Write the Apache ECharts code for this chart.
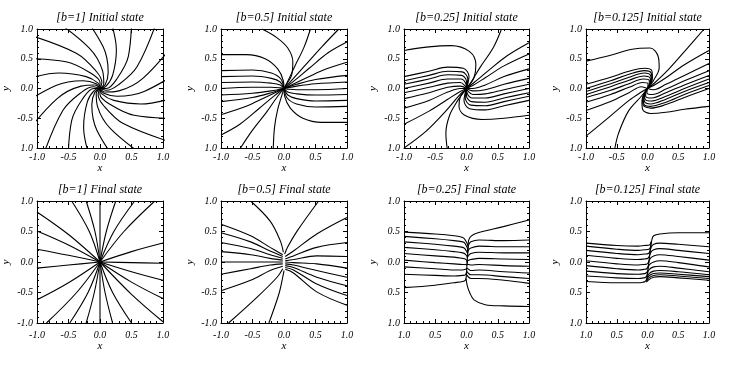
<!DOCTYPE html>
<html>
<head>
<meta charset="utf-8">
<title>field lines</title>
<script src="https://cdn.jsdelivr.net/npm/echarts/dist/echarts.min.js"></script>
<style>
  html, body { margin: 0; padding: 0; background: #fff; }
  #charts { width: 736px; height: 365px; }
</style>
</head>
<body>
<div id="charts"></div>
<script>
// panel titles
var titles = ['[b=1] Initial state', '[b=0.5] Initial state', '[b=0.25] Initial state', '[b=0.125] Initial state',
              '[b=1] Final state', '[b=0.5] Final state', '[b=0.25] Final state', '[b=0.125] Final state'];

// tick labels, listed from -1 to 1
var xTicksStd = ['-1.0', '-0.5', '0.0', '0.5', '1.0'];
var xTicksBare = ['1.0', '0.5', '0.0', '0.5', '1.0'];
var yTicksInit = ['1.0', '-0.5', '0.0', '0.5', '1.0'];
var yTicksStd = ['-1.0', '-0.5', '0.0', '0.5', '1.0'];
var yTicksBare = ['1.0', '0.5', '0.0', '0.5', '1.0'];

// field lines, each one a list of [x, y]
var b1Init = [
  [[0,0],[-0.03,0.09],[-0.22,0.20],[-0.65,0.26],[-1.50,0.05]],
  [[0,0],[-0.06,0.08],[-0.27,0.13],[-0.70,0.05],[-1.44,-0.41]],
  [[0,0],[-0.08,0.06],[-0.30,0.04],[-0.68,-0.17],[-1.24,-0.84]],
  [[0,0],[-0.10,0.03],[-0.29,-0.06],[-0.59,-0.37],[-0.92,-1.18]],
  [[0,0],[-0.10,0.00],[-0.26,-0.15],[-0.45,-0.54],[-0.51,-1.41]],
  [[0,0],[-0.09,-0.03],[-0.20,-0.22],[-0.26,-0.65],[-0.05,-1.50]],
  [[0,0],[-0.08,-0.06],[-0.13,-0.27],[-0.05,-0.70],[0.41,-1.44]],
  [[0,0],[-0.06,-0.08],[-0.04,-0.30],[0.17,-0.68],[0.84,-1.24]],
  [[0,0],[-0.03,-0.10],[0.06,-0.29],[0.37,-0.59],[1.18,-0.92]],
  [[0,0],[0.00,-0.10],[0.15,-0.26],[0.54,-0.45],[1.41,-0.51]],
  [[0,0],[0.03,-0.09],[0.22,-0.20],[0.65,-0.26],[1.50,-0.05]],
  [[0,0],[0.06,-0.08],[0.27,-0.13],[0.70,-0.05],[1.44,0.41]],
  [[0,0],[0.08,-0.06],[0.30,-0.04],[0.68,0.17],[1.24,0.84]],
  [[0,0],[0.10,-0.03],[0.29,0.06],[0.59,0.37],[0.92,1.18]],
  [[0,0],[0.10,0.00],[0.26,0.15],[0.45,0.54],[0.51,1.41]],
  [[0,0],[0.09,0.03],[0.20,0.22],[0.26,0.65],[0.05,1.50]],
  [[0,0],[0.08,0.06],[0.13,0.27],[0.05,0.70],[-0.41,1.44]],
  [[0,0],[0.06,0.08],[0.04,0.30],[-0.17,0.68],[-0.84,1.24]],
  [[0,0],[0.03,0.10],[-0.06,0.29],[-0.37,0.59],[-1.18,0.92]],
  [[0,0],[0.00,0.10],[-0.15,0.26],[-0.54,0.45],[-1.41,0.51]]
];

var b05Init = [
  [[-0.35,1],[-0.12,0.86],[0.06,0.68],[0.14,0.45],[0.12,0.22],[0.04,0.07],[0,0]],
  [[-1,0.57],[-0.6,0.57],[-0.3,0.5],[-0.1,0.33],[-0.01,0.13],[0,0]],
  [[-1,0.30],[-0.5,0.31],[-0.2,0.26],[-0.05,0.16],[0,0]],
  [[-1,0.20],[-0.5,0.21],[-0.2,0.17],[-0.06,0.11],[0,0]],
  [[-1,0.10],[-0.5,0.11],[-0.2,0.09],[-0.06,0.06],[0,0]],
  [[-1,0.0],[-0.5,0.02],[-0.2,0.02],[-0.06,0.01],[0,0]],
  [[-1,-0.11],[-0.5,-0.08],[-0.2,-0.04],[0,0]],
  [[-1,-0.22],[-0.5,-0.15],[-0.2,-0.07],[0,0]],
  [[-1,-0.44],[-0.6,-0.3],[-0.3,-0.15],[-0.1,-0.05],[0,0]],
  [[-1,-0.78],[-0.7,-0.6],[-0.4,-0.34],[-0.15,-0.12],[0,0]],
  [[-0.69,-1],[-0.5,-0.7],[-0.28,-0.4],[-0.1,-0.13],[0,0]],
  [[-0.17,-1],[-0.15,-0.65],[-0.1,-0.35],[-0.03,-0.1],[0,0]],
  [[1,-0.57],[0.6,-0.57],[0.3,-0.5],[0.1,-0.33],[0.01,-0.13],[0,0]],
  [[1,-0.30],[0.5,-0.31],[0.2,-0.26],[0.05,-0.16],[0,0]],
  [[1,-0.20],[0.5,-0.21],[0.2,-0.17],[0.06,-0.11],[0,0]],
  [[1,-0.10],[0.5,-0.11],[0.2,-0.09],[0.06,-0.06],[0,0]],
  [[1,0.0],[0.5,-0.02],[0.2,-0.02],[0.06,-0.01],[0,0]],
  [[1,0.11],[0.5,0.08],[0.2,0.04],[0,0]],
  [[1,0.22],[0.5,0.15],[0.2,0.07],[0,0]],
  [[1,0.44],[0.6,0.3],[0.3,0.15],[0.1,0.05],[0,0]],
  [[1,0.78],[0.7,0.6],[0.4,0.34],[0.15,0.12],[0,0]],
  [[0.42,1],[0.32,0.7],[0.17,0.37],[0.05,0.1],[0,0]],
  [[0.87,1],[0.6,0.7],[0.32,0.37],[0.09,0.1],[0,0]]
];

var b025Init = [
  [[-1,0.64],[-0.6,0.7],[-0.25,0.72],[0.05,0.62],[0.15,0.4],[0.12,0.18],[0.03,0.04],[0,0]],
  [[-1,0.20],[-0.6,0.29],[-0.3,0.36],[-0.05,0.34],[0.04,0.2],[0.02,0.07],[0,0]],
  [[-1,0.13],[-0.6,0.22],[-0.3,0.29],[-0.07,0.28],[0.02,0.16],[0.01,0.05],[0,0]],
  [[-1,0.07],[-0.6,0.16],[-0.3,0.23],[-0.08,0.22],[0.0,0.12],[0,0]],
  [[-1,0.0],[-0.6,0.09],[-0.3,0.16],[-0.09,0.16],[-0.01,0.08],[0,0]],
  [[-1,-0.07],[-0.6,0.02],[-0.3,0.09],[-0.1,0.1],[-0.02,0.04],[0,0]],
  [[-1,-0.17],[-0.6,-0.07],[-0.3,0.02],[-0.1,0.04],[0,0]],
  [[-1,-0.33],[-0.6,-0.2],[-0.3,-0.06],[-0.1,0.0],[0,0]],
  [[-1,-0.6],[-0.6,-0.38],[-0.3,-0.18],[-0.1,-0.05],[0,0]],
  [[-1,-1],[-0.65,-0.72],[-0.35,-0.4],[-0.12,-0.12],[0,0]],
  [[-0.31,-1],[-0.33,-0.75],[-0.27,-0.45],[-0.14,-0.2],[-0.04,-0.05],[0,0]],
  [[1,-0.45],[0.6,-0.5],[0.25,-0.52],[-0.03,-0.45],[-0.12,-0.3],[-0.1,-0.14],[-0.03,-0.04],[0,0]],
  [[1,-0.20],[0.6,-0.29],[0.3,-0.36],[0.05,-0.34],[-0.04,-0.2],[-0.02,-0.07],[0,0]],
  [[1,-0.13],[0.6,-0.22],[0.3,-0.29],[0.07,-0.28],[-0.02,-0.16],[-0.01,-0.05],[0,0]],
  [[1,-0.07],[0.6,-0.16],[0.3,-0.23],[0.08,-0.22],[0.0,-0.12],[0,0]],
  [[1,0.0],[0.6,-0.09],[0.3,-0.16],[0.09,-0.16],[0.01,-0.08],[0,0]],
  [[1,0.07],[0.6,-0.02],[0.3,-0.09],[0.1,-0.1],[0.02,-0.04],[0,0]],
  [[1,0.17],[0.6,0.07],[0.3,-0.02],[0.1,-0.04],[0,0]],
  [[1,0.33],[0.6,0.2],[0.3,0.06],[0.1,0.0],[0,0]],
  [[1,0.58],[0.6,0.38],[0.3,0.18],[0.1,0.05],[0,0]],
  [[1,0.77],[0.65,0.55],[0.35,0.3],[0.12,0.1],[0,0]],
  [[0.56,1],[0.43,0.69],[0.22,0.36],[0.07,0.1],[0,0]]
];

var b0125Init = [
  [[-1,0.46],[-0.6,0.56],[-0.25,0.66],[0.04,0.68],[0.17,0.55],[0.19,0.35],[0.1,0.14],[0.02,0.02],[0,0]],
  [[-1,0.07],[-0.6,0.19],[-0.3,0.29],[-0.05,0.34],[0.07,0.3],[0.08,0.17],[0.03,0.05],[0,0]],
  [[-1,0.0],[-0.6,0.13],[-0.3,0.24],[-0.05,0.3],[0.06,0.26],[0.07,0.15],[0.02,0.04],[0,0]],
  [[-1,-0.05],[-0.6,0.08],[-0.3,0.19],[-0.05,0.26],[0.05,0.22],[0.06,0.13],[0.02,0.04],[0,0]],
  [[-1,-0.1],[-0.6,0.03],[-0.3,0.14],[-0.06,0.21],[0.04,0.18],[0.05,0.1],[0,0]],
  [[-1,-0.15],[-0.6,-0.03],[-0.3,0.08],[-0.07,0.16],[0.03,0.13],[0.03,0.06],[0,0]],
  [[-1,-0.23],[-0.6,-0.1],[-0.3,0.02],[-0.08,0.1],[0.01,0.08],[0,0]],
  [[-1,-0.37],[-0.6,-0.22],[-0.3,-0.07],[-0.1,0.03],[0,0]],
  [[-1,-0.8],[-0.6,-0.46],[-0.3,-0.2],[-0.1,-0.06],[0,0]],
  [[-0.53,-1],[-0.47,-0.75],[-0.31,-0.38],[-0.1,-0.13],[0,0]],
  [[1,-0.3],[0.6,-0.35],[0.3,-0.4],[0.05,-0.42],[-0.08,-0.35],[-0.09,-0.2],[-0.03,-0.06],[0,0]],
  [[1,0.0],[0.6,-0.15],[0.3,-0.27],[0.05,-0.33],[-0.07,-0.28],[-0.08,-0.16],[-0.03,-0.05],[0,0]],
  [[1,0.05],[0.6,-0.1],[0.3,-0.23],[0.05,-0.3],[-0.06,-0.26],[-0.07,-0.14],[-0.02,-0.04],[0,0]],
  [[1,0.1],[0.6,-0.05],[0.3,-0.18],[0.05,-0.26],[-0.05,-0.22],[-0.06,-0.12],[-0.02,-0.04],[0,0]],
  [[1,0.16],[0.6,0.0],[0.3,-0.13],[0.06,-0.21],[-0.04,-0.18],[-0.05,-0.1],[0,0]],
  [[1,0.22],[0.6,0.06],[0.3,-0.07],[0.07,-0.16],[-0.03,-0.13],[-0.03,-0.06],[0,0]],
  [[1,0.3],[0.6,0.13],[0.3,-0.01],[0.08,-0.1],[-0.01,-0.07],[0,0]],
  [[1,0.42],[0.6,0.22],[0.3,0.07],[0.1,-0.02],[0,0]],
  [[1,0.64],[0.6,0.4],[0.3,0.18],[0.1,0.05],[0,0]],
  [[0.92,1],[0.65,0.68],[0.35,0.33],[0.1,0.08],[0,0]]
];

var b1Final = [
  [[0,0],[-0.5,0.45],[-1,0.82]], [[0,0],[-0.5,0.28],[-1,0.51]], [[0,0],[-0.5,0.11],[-1,0.21]],
  [[0,0],[-0.5,-0.05],[-1,-0.10]], [[0,0],[-0.5,-0.34],[-1,-0.62]],
  [[0,0],[-0.17,0.5],[-0.45,1]], [[0,0],[-0.08,0.5],[-0.22,1]], [[0,0],[0,0.5],[0,1]],
  [[0,0],[0.1,0.5],[0.25,1]], [[0,0],[0.22,0.5],[0.55,1]], [[0,0],[0.38,0.5],[0.87,1]],
  [[0,0],[0.5,0.17],[1,0.31]], [[0,0],[0.5,-0.01],[1,-0.02]], [[0,0],[0.5,-0.16],[1,-0.30]],
  [[0,0],[0.5,-0.33],[1,-0.60]], [[0,0],[0.5,-0.53],[1,-0.98]],
  [[0,0],[-0.37,-0.5],[-0.85,-1]], [[0,0],[-0.19,-0.5],[-0.48,-1]], [[0,0],[-0.09,-0.5],[-0.22,-1]],
  [[0,0],[0,-0.5],[0,-1]], [[0,0],[0.08,-0.5],[0.2,-1]], [[0,0],[0.2,-0.5],[0.5,-1]]
];

var b05Final = [
  [[-0.53,1],[-0.22,0.67],[-0.06,0.35],[-0.01,0.16]],
  [[-1,0.62],[-0.53,0.43],[-0.22,0.24],[-0.02,0.12]],
  [[-1,0.48],[-0.53,0.33],[-0.22,0.18],[-0.02,0.09]],
  [[-1,0.32],[-0.53,0.22],[-0.22,0.12],[-0.02,0.06]],
  [[-1,0.17],[-0.53,0.12],[-0.22,0.06],[-0.02,0.03]],
  [[-1,0.0],[-0.53,0.0],[-0.22,0.0],[-0.02,0.0]],
  [[-1,-0.2],[-0.53,-0.11],[-0.22,-0.05],[-0.02,-0.03]],
  [[-1,-0.47],[-0.53,-0.3],[-0.22,-0.14],[-0.02,-0.07]],
  [[-0.88,-1],[-0.43,-0.58],[-0.11,-0.25],[-0.02,-0.11]],
  [[-0.24,-1],[-0.08,-0.52],[-0.02,-0.25],[0,-0.14]],
  [[0.55,1],[0.21,0.51],[0.06,0.25],[0.01,0.13]],
  [[1,0.73],[0.52,0.46],[0.15,0.18],[0.02,0.09]],
  [[1,0.32],[0.52,0.24],[0.15,0.1],[0.02,0.05]],
  [[1,0.09],[0.52,0.1],[0.15,0.04],[0.02,0.02]],
  [[1,-0.1],[0.52,-0.03],[0.15,-0.01],[0.02,0]],
  [[1,-0.25],[0.52,-0.14],[0.15,-0.05],[0.02,-0.03]],
  [[1,-0.39],[0.52,-0.25],[0.15,-0.09],[0.02,-0.06]],
  [[1,-0.55],[0.52,-0.36],[0.15,-0.13],[0.02,-0.09]],
  [[1,-0.71],[0.52,-0.49],[0.15,-0.18],[0.02,-0.12]]
];

var b025Final = [
  [[-1,0.49],[-0.5,0.46],[-0.2,0.43],[-0.06,0.40],[-0.02,0.36],[0.025,0.25],[0.02,0.18]],
  [[-1,0.42],[-0.5,0.38],[-0.2,0.35],[-0.06,0.33],[-0.02,0.3],[0.021,0.19],[0.017,0.12]],
  [[-1,0.33],[-0.5,0.29],[-0.2,0.26],[-0.06,0.24],[-0.02,0.21],[0.018,0.13],[0.014,0.06]],
  [[-1,0.24],[-0.5,0.2],[-0.2,0.17],[-0.06,0.15],[-0.02,0.13],[0.014,0.07],[0.01,0.0]],
  [[-1,0.14],[-0.5,0.1],[-0.2,0.08],[-0.06,0.06],[-0.02,0.05],[0.011,0.01],[0.008,-0.05]],
  [[-1,0.03],[-0.5,-0.01],[-0.2,-0.03],[-0.06,-0.04],[-0.02,-0.04],[0.007,-0.05],[0.011,0.02]],
  [[-1,-0.08],[-0.5,-0.11],[-0.2,-0.13],[-0.06,-0.13],[-0.02,-0.12],[0.003,-0.11],[0.007,-0.04]],
  [[-1,-0.2],[-0.5,-0.22],[-0.2,-0.23],[-0.06,-0.22],[-0.02,-0.21],[0.0,-0.17],[0.004,-0.1]],
  [[-1,-0.42],[-0.5,-0.38],[-0.2,-0.34],[-0.06,-0.32],[-0.02,-0.3],[-0.005,-0.25],[-0.001,-0.18]],
  [[0.026,0.27],[0.035,0.36],[0.07,0.42],[0.16,0.47],[0.59,0.58],[1,0.69]],
  [[0.022,0.2],[0.035,0.28],[0.07,0.33],[0.2,0.36],[0.6,0.35],[1,0.36]],
  [[0.018,0.14],[0.035,0.2],[0.07,0.23],[0.2,0.26],[0.6,0.25],[1,0.25]],
  [[0.015,0.08],[0.035,0.11],[0.07,0.14],[0.2,0.16],[0.6,0.15],[1,0.15]],
  [[0.011,0.02],[0.035,0.03],[0.07,0.04],[0.2,0.06],[0.6,0.05],[1,0.04]],
  [[0.008,-0.04],[0.035,-0.04],[0.07,-0.05],[0.2,-0.04],[0.6,-0.06],[1,-0.07]],
  [[0.004,-0.1],[0.035,-0.12],[0.07,-0.14],[0.2,-0.13],[0.6,-0.16],[1,-0.18]],
  [[0.001,-0.15],[0.035,-0.19],[0.07,-0.21],[0.2,-0.21],[0.6,-0.24],[1,-0.27]],
  [[-0.002,-0.2],[0.035,-0.25],[0.07,-0.27],[0.2,-0.27],[0.6,-0.3],[1,-0.35]],
  [[-0.006,-0.27],[0.01,-0.38],[0.05,-0.5],[0.12,-0.62],[0.3,-0.7],[0.6,-0.72],[1,-0.73]]
];

var b0125Final = [
  [[-1,0.31],[-0.5,0.27],[-0.15,0.26],[-0.05,0.27],[0.032,0.28],[0.058,0.32],[0.062,0.34]],
  [[-1,0.26],[-0.5,0.21],[-0.15,0.19],[-0.05,0.2],[0.024,0.21],[0.05,0.25],[0.06,0.33]],
  [[-1,0.19],[-0.5,0.14],[-0.15,0.12],[-0.05,0.13],[0.016,0.14],[0.042,0.18],[0.051,0.26]],
  [[-1,0.11],[-0.5,0.06],[-0.15,0.04],[-0.05,0.05],[0.006,0.06],[0.032,0.1],[0.042,0.18]],
  [[-1,0.02],[-0.5,-0.03],[-0.15,-0.05],[-0.05,-0.04],[-0.005,-0.03],[0.021,0.01],[0.031,0.09]],
  [[-1,-0.06],[-0.5,-0.11],[-0.15,-0.13],[-0.05,-0.12],[-0.014,-0.11],[0.012,-0.07],[0.021,0.01]],
  [[-1,-0.15],[-0.5,-0.19],[-0.15,-0.2],[-0.05,-0.19],[-0.023,-0.18],[0.003,-0.14],[0.013,-0.06]],
  [[-1,-0.23],[-0.5,-0.26],[-0.15,-0.27],[-0.06,-0.26],[-0.031,-0.25],[-0.005,-0.21],[0.004,-0.13]],
  [[-1,-0.32],[-0.5,-0.34],[-0.15,-0.34],[-0.07,-0.33],[-0.04,-0.32],[-0.014,-0.28],[-0.004,-0.2]],
  [[0.049,0.24],[0.07,0.36],[0.1,0.43],[0.2,0.46],[0.5,0.48],[1,0.48]],
  [[0.038,0.15],[0.06,0.24],[0.1,0.29],[0.2,0.31],[0.5,0.29],[1,0.25]],
  [[0.028,0.07],[0.05,0.15],[0.1,0.2],[0.2,0.22],[0.5,0.19],[1,0.14]],
  [[0.018,-0.02],[0.045,0.06],[0.1,0.1],[0.2,0.12],[0.5,0.09],[1,0.03]],
  [[0.007,-0.11],[0.035,-0.04],[0.1,0.0],[0.2,0.02],[0.5,-0.01],[1,-0.08]],
  [[-0.003,-0.19],[0.03,-0.12],[0.1,-0.08],[0.2,-0.07],[0.5,-0.1],[1,-0.16]],
  [[-0.01,-0.25],[0.025,-0.19],[0.1,-0.15],[0.2,-0.14],[0.5,-0.16],[1,-0.21]],
  [[-0.015,-0.29],[0.02,-0.23],[0.1,-0.19],[0.2,-0.18],[0.5,-0.2],[1,-0.24]],
  [[-0.017,-0.31],[0.02,-0.26],[0.1,-0.22],[0.2,-0.21],[0.5,-0.23],[1,-0.27]],
  [[-0.02,-0.33],[0.02,-0.29],[0.1,-0.25],[0.2,-0.24],[0.5,-0.26],[1,-0.3]]
];

var panels = [
  { lines: b1Init, xt: xTicksStd, yt: yTicksInit },
  { lines: b05Init, xt: xTicksStd, yt: yTicksInit },
  { lines: b025Init, xt: xTicksStd, yt: yTicksInit },
  { lines: b0125Init, xt: xTicksStd, yt: yTicksInit },
  { lines: b1Final, xt: xTicksStd, yt: yTicksStd },
  { lines: b05Final, xt: xTicksStd, yt: yTicksStd },
  { lines: b025Final, xt: xTicksBare, yt: yTicksBare },
  { lines: b0125Final, xt: xTicksBare, yt: yTicksBare }
];

var chart = echarts.init(document.getElementById('charts'), null, { renderer: 'canvas' });

var font = 'Liberation Serif';
var gridLeft = [37, 221, 404, 586];
var gridWidth = [126, 126, 125, 123];
var rowTop = [29, 201];
var rowHeight = [119, 122];
var labelMargin = [4, 7];
var xNameGap = [7, 11];

function labeller(arr) {
  return function (v) { return arr[Math.round((v + 1) * 2)]; };
}

function makeAxis(i, pos, labels, margin, name, gap) {
  var ax = {
    gridIndex: i, type: 'value', min: -1, max: 1, interval: 0.5, position: pos,
    axisLine: { show: true, onZero: false, lineStyle: { color: '#000', width: 1 } },
    axisTick: { show: true, inside: true, length: 4, lineStyle: { color: '#000', width: 1 } },
    minorTick: { show: true, splitNumber: 5, length: 2, lineStyle: { color: '#000', width: 1 } },
    splitLine: { show: false },
    axisLabel: { show: false }
  };
  if (labels) {
    ax.axisLabel = { show: true, margin: margin, formatter: labeller(labels),
      fontFamily: font, fontStyle: 'italic', fontSize: 10, color: '#000' };
    ax.name = name;
    ax.nameLocation = 'middle';
    ax.nameGap = gap;
    ax.nameTextStyle = { fontFamily: font, fontStyle: 'italic', fontSize: 11, color: '#000' };
  }
  return ax;
}

var option = {
  animation: false,
  backgroundColor: '#fff',
  graphic: [],
  grid: [],
  xAxis: [],
  yAxis: [],
  series: []
};

panels.forEach(function (p, i) {
  var row = Math.floor(i / 4), col = i % 4;
  option.grid.push({ left: gridLeft[col], top: rowTop[row], width: gridWidth[col], height: rowHeight[row] });
  option.graphic.push({
    type: 'text', x: gridLeft[col] + gridWidth[col] / 2, y: rowTop[row] - 11,
    style: { text: titles[i], font: 'italic 12px "' + font + '"', fill: '#000',
             align: 'center', verticalAlign: 'middle', textAlign: 'center', textVerticalAlign: 'middle' }
  });
  option.xAxis.push(makeAxis(i, 'bottom', p.xt, labelMargin[row], 'x', xNameGap[row]));
  option.xAxis.push(makeAxis(i, 'top'));
  option.yAxis.push(makeAxis(i, 'left', p.yt, 4, 'y', 25));
  option.yAxis.push(makeAxis(i, 'right'));
  p.lines.forEach(function (line) {
    option.series.push({
      type: 'line', xAxisIndex: 2 * i, yAxisIndex: 2 * i, data: line,
      smooth: 0.35, symbol: 'none', silent: true, clip: true,
      lineStyle: { color: '#000', width: 1.1 }
    });
  });
});

chart.setOption(option);
</script>
</body>
</html>
